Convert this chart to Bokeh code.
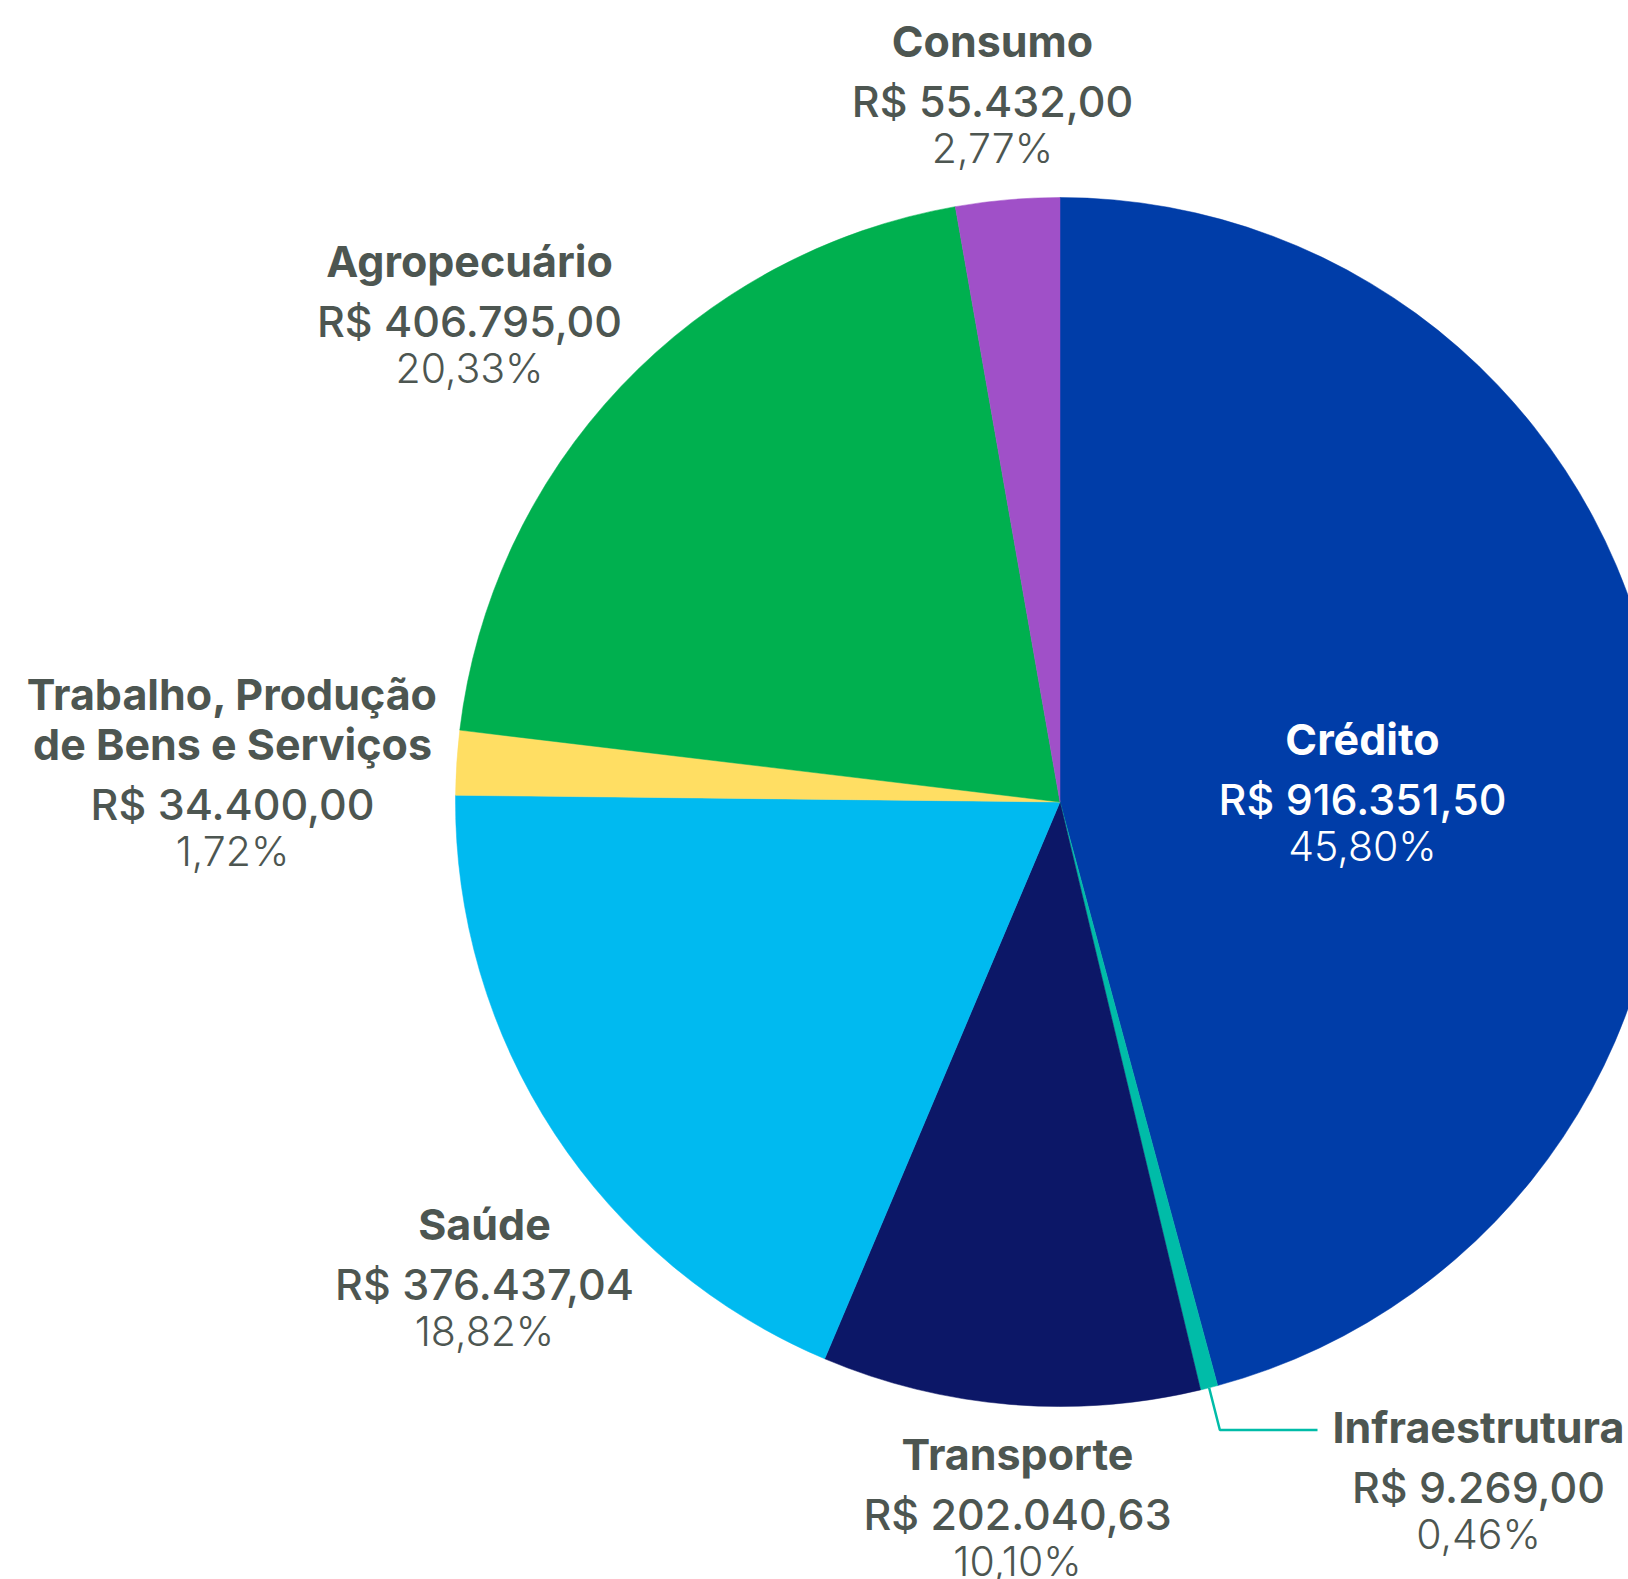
import math
from bokeh.plotting import figure
from bokeh.models import Range1d
from bokeh.core.properties import value
from bokeh.embed import file_html
from bokeh.resources import INLINE

# ---- data ----
categories = ["Crédito", "Infraestrutura", "Transporte", "Saúde",
              "Trabalho, Produção\nde Bens e Serviços", "Agropecuário", "Consumo"]
values = [916351.50, 9269.00, 202040.63, 376437.04, 34400.00, 406795.00, 55432.00]
colors = ["#003DA8", "#00BCA8", "#0C1767", "#00BAF0", "#FFDE63", "#00B04F", "#A050C8"]

# ---- layout (pixel positions of the page) ----
W, H = 1628, 1579
CX, CY, R = 1059.5, 801.5, 604.5
TEXT_SHIFT = -15
# label anchor: (center x, baseline of first name line)
label_pos = {
    "Crédito": (1362, 753),
    "Infraestrutura": (1478, 1441),
    "Transporte": (1017, 1468),
    "Saúde": (484, 1238),
    "Trabalho, Produção\nde Bens e Serviços": (232, 708),
    "Agropecuário": (469, 275),
    "Consumo": (992, 55),
}
NAME_LINE = 50
NAME_TO_VALUE = 60
VALUE_TO_PCT = 47
TEXT_COLOR = "#4D5651"
FONT = "Inter"

def brl(v):
    s = f"{v:,.2f}"
    return "R$ " + s.replace(",", "X").replace(".", ",").replace("X", ".")

def pct(v, total):
    return f"{v / total * 100:.2f}".replace(".", ",") + "%"

total = sum(values)

p = figure(width=W, height=H, output_backend="svg", toolbar_location=None,
           x_range=Range1d(0, W), y_range=Range1d(-H, 0),
           min_border=0, outline_line_color=None)
p.axis.visible = False
p.grid.visible = False
p.background_fill_color = "white"
p.border_fill_color = "white"

# wedges, clockwise from 12 o'clock
cum = 0.0
starts, ends = [], []
for v in values:
    a0 = math.pi / 2 - 2 * math.pi * (cum + v) / total
    a1 = math.pi / 2 - 2 * math.pi * cum / total
    starts.append(a0)
    ends.append(a1)
    cum += v

p.wedge(x=[CX] * len(values), y=[-CY] * len(values), radius=R,
        start_angle=starts, end_angle=ends, fill_color=colors,
        line_color=colors, line_width=0.5)

# leader line for Infraestrutura
i = categories.index("Infraestrutura")
mid = (starts[i] + ends[i]) / 2
x0, y0 = CX + R * math.cos(mid), -CY + R * math.sin(mid)
x1, y1 = CX + 648 * math.cos(mid), -CY + 648 * math.sin(mid)
p.line(x=[x0, x1, 1317], y=[y0, y1, y1], line_color=colors[i], line_width=2.5)

for cat, v in zip(categories, values):
    lx, ly = label_pos[cat]
    ly += TEXT_SHIFT
    col = "white" if cat == "Crédito" else TEXT_COLOR
    lines = cat.split("\n")
    for k, line in enumerate(lines):
        p.text(x=[lx], y=[-(ly + k * NAME_LINE)], text=[line],
               text_font=value(FONT), text_font_style="bold",
               text_font_size="43px", text_color=col,
               text_align="center", text_baseline="alphabetic")
    vy = ly + (len(lines) - 1) * NAME_LINE + NAME_TO_VALUE
    p.text(x=[lx], y=[-vy], text=[brl(v)], text_font=value("Inter Medium, Inter"),
           text_font_size="43px", text_color=col,
           text_align="center", text_baseline="alphabetic")
    p.text(x=[lx], y=[-(vy + VALUE_TO_PCT)], text=[pct(v, total)],
           text_font=value("Inter Light, Inter"),
           text_font_size="41px", text_color=col,
           text_align="center", text_baseline="alphabetic")

open("out.html", "w").write(file_html(p, INLINE))
